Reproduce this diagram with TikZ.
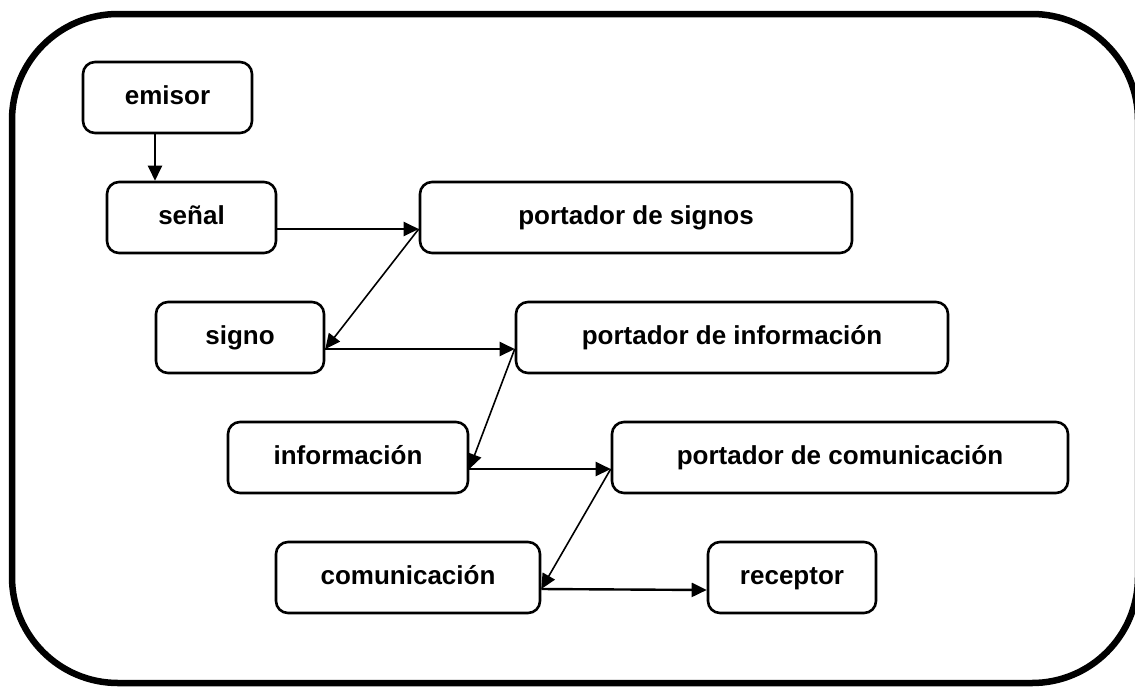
\documentclass[tikz,border=0pt]{standalone}
\usepackage{fontspec}
\setmainfont{Liberation Sans}
\usetikzlibrary{arrows.meta}
\tikzset{
  box/.style={draw, line width=2.6pt, rounded corners=12pt, inner sep=0pt,
    font=\fontsize{26}{30}\selectfont\bfseries, text height=14pt, text depth=0pt},
  arr/.style={line width=2.4pt, -{Triangle[length=15pt,width=14pt]}},
  darr/.style={line width=1.6pt, -{Triangle[length=15pt,width=14pt]}},
  frame/.style={line width=6.5pt, rounded corners=106pt}
}
\begin{document}
\begin{tikzpicture}[x=1pt,y=-1pt]
\useasboundingbox (0,0) rectangle (1135,686);
\draw[frame] (12,14) rectangle (1138,683);
\node[box, minimum width=169pt, minimum height=71pt] (emisor) at (167.5,97.5) {emisor};
\node[box, minimum width=169pt, minimum height=71pt] (senal) at (191.5,217.5) {señal};
\node[box, minimum width=432pt, minimum height=71pt] (psig) at (636,217.5) {portador de signos};
\node[box, minimum width=168pt, minimum height=71pt] (signo) at (240,337.5) {signo};
\node[box, minimum width=432pt, minimum height=71pt] (pinf) at (732,337.5) {portador de información};
\node[box, minimum width=240pt, minimum height=71pt] (info) at (348,457.5) {información};
\node[box, minimum width=456pt, minimum height=71pt] (pcom) at (840,457.5) {portador de comunicación};
\node[box, minimum width=264pt, minimum height=71pt] (com) at (408,577.5) {comunicación};
\node[box, minimum width=168pt, minimum height=71pt] (rec) at (792,577.5) {receptor};
\draw[arr] ([xshift=-12.5pt]emisor.south) -- ([xshift=-12.5pt]emisor.south |- senal.north);
\draw[arr] ([yshift=-11.5pt]senal.east) -- ([yshift=-11.5pt]psig.west);
\draw[darr] ([yshift=-11.5pt]psig.west) -- ([yshift=-11.5pt]signo.east);
\draw[arr] ([yshift=-11.5pt]signo.east) -- ([yshift=-11.5pt]pinf.west);
\draw[darr] ([yshift=-11.5pt]pinf.west) -- ([yshift=-11.5pt]info.east);
\draw[arr] ([yshift=-11.5pt]info.east) -- ([yshift=-11.5pt]pcom.west);
\draw[darr] ([yshift=-11.5pt]pcom.west) -- ([yshift=-11.5pt]com.east);
\draw[arr] ([yshift=-11.5pt]com.east) -- ([yshift=-12.5pt]rec.west);
\end{tikzpicture}
\end{document}
